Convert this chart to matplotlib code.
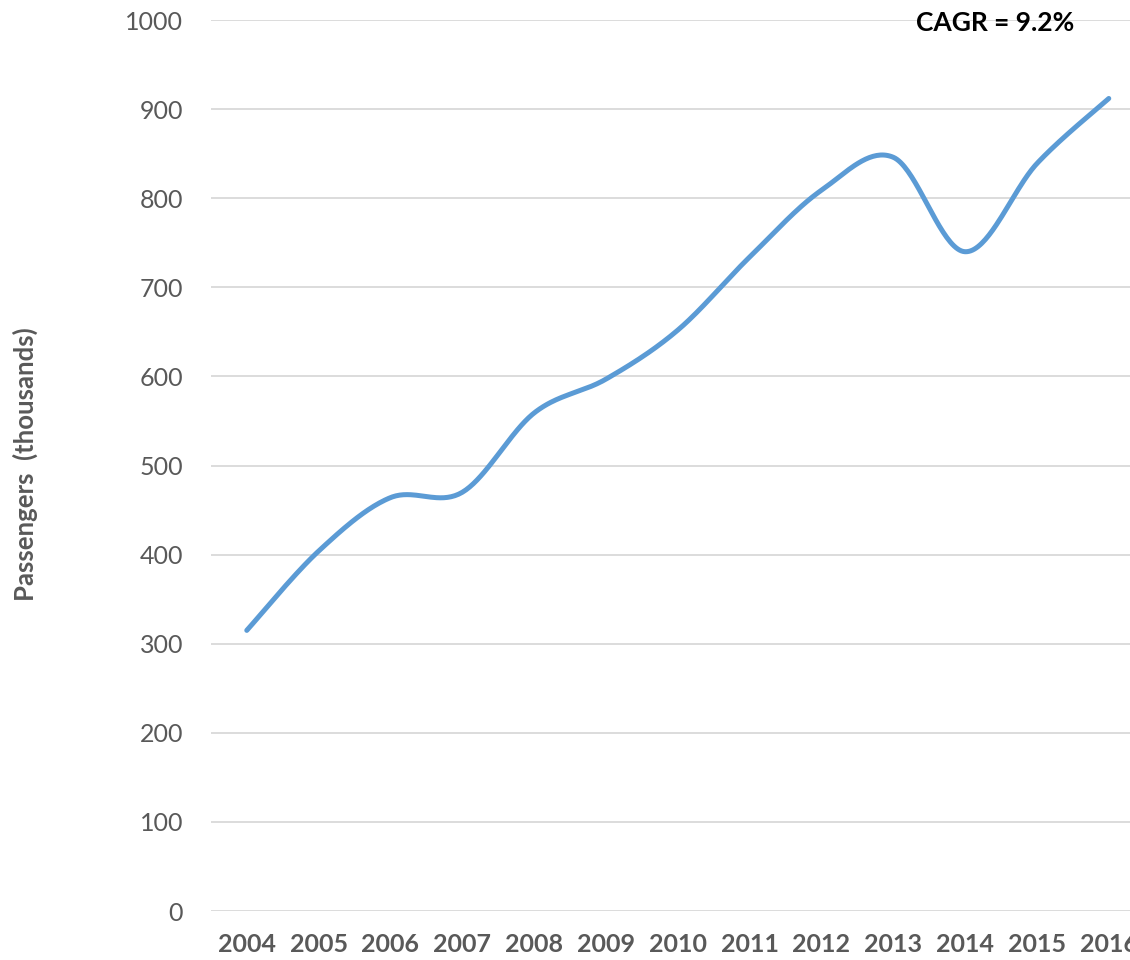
import numpy as np
import matplotlib
matplotlib.use("Agg")
import matplotlib.pyplot as plt

# passengers per year, thousands
years = [2004, 2005, 2006, 2007, 2008, 2009, 2010, 2011, 2012, 2013, 2014, 2015, 2016]
passengers = [315, 404, 464, 470, 559, 597, 652, 734, 809, 846, 740, 839, 912]
yticks = [0, 100, 200, 300, 400, 500, 600, 700, 800, 900, 1000]
note = "CAGR = 9.2%"

LINE = "#5B9BD5"
GREY = "#595959"
GRID = "#D9D9D9"

plt.rcParams["font.family"] = ["Lato", "DejaVu Sans"]


def smooth(x, y, n=40):
    # Excel-like smoothed line: cubic Bezier segments with Catmull-Rom tangents
    x = np.asarray(x, float)
    y = np.asarray(y, float)
    px = np.concatenate([[x[0]], x, [x[-1]]])
    py = np.concatenate([[y[0]], y, [y[-1]]])
    xs, ys = [], []
    t = np.linspace(0, 1, n)
    for i in range(1, len(px) - 2):
        p0 = np.array([px[i], py[i]])
        p3 = np.array([px[i + 1], py[i + 1]])
        p1 = p0 + (p3 - np.array([px[i - 1], py[i - 1]])) / 6.0
        p2 = p3 - (np.array([px[i + 2], py[i + 2]]) - p0) / 6.0
        pts = ((1 - t) ** 3)[:, None] * p0 + (3 * (1 - t) ** 2 * t)[:, None] * p1 \
            + (3 * (1 - t) * t ** 2)[:, None] * p2 + (t ** 3)[:, None] * p3
        xs.append(pts[:, 0])
        ys.append(pts[:, 1])
    return np.concatenate(xs), np.concatenate(ys)


fig = plt.figure(figsize=(11.3, 9.6), dpi=100)
ax = fig.add_axes([0.1866, 0.0510, 0.8264, 0.9281])

sx, sy = smooth(years, passengers)
ax.plot(sx, sy, color=LINE, linewidth=3.6, solid_capstyle="round", zorder=3)

ax.set_xlim(years[0] - 0.5, years[-1] + 0.5)
ax.set_ylim(0, 1000)
ax.set_yticks(yticks)
ax.set_yticklabels([str(v) for v in yticks], fontsize=18, color=GREY)
ax.set_xticks(years)
ax.set_xticklabels([str(v) for v in years], fontsize=18, fontweight="bold", color=GREY)
ax.tick_params(axis="y", length=0, pad=20)
ax.tick_params(axis="x", length=0, pad=16)
ax.grid(axis="y", color=GRID, linewidth=1.3)
ax.set_axisbelow(True)
for s in ax.spines.values():
    s.set_visible(False)

fig.text(25 / 1130, 0.517, "Passengers  (thousands)", rotation=90, ha="center",
         va="center", fontsize=18.5, fontweight="bold", color=GREY)
fig.text(0.881, 0.976, note, ha="center", va="center", fontsize=19,
         fontweight="bold", color="black")

fig.savefig("out.png", dpi=100)
